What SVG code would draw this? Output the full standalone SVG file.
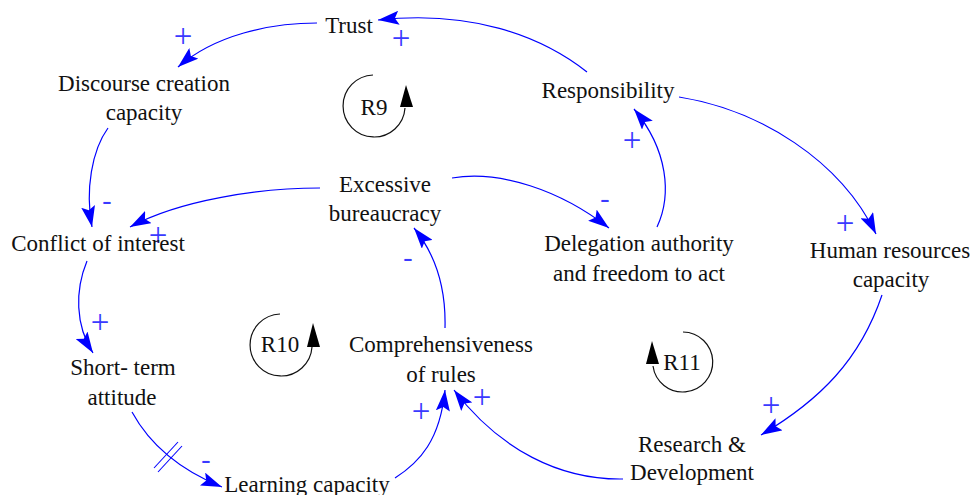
<svg xmlns="http://www.w3.org/2000/svg" width="973" height="495" viewBox="0 0 973 495" font-family="Liberation Serif, Tinos, Times New Roman, DejaVu Serif, Noto Serif, serif">
  <style>
    .lbl { font-size: 23px; fill: #111; text-anchor: middle; }
    .pol { font-size: 28px; fill: #3a3aff; text-anchor: middle; }
    .plus { font-size: 33px; fill: #3a3aff; text-anchor: middle; }
    .link { fill: none; stroke: #0000ff; stroke-width: 1.2; marker-end: url(#arrow); }
    .loop { fill: none; stroke: #111; stroke-width: 1.2; }
    .loophead { fill: #000; }
    .delay { stroke: #0000ff; stroke-width: 1.1; }
  </style>
  <defs>
    <marker id="arrow" markerUnits="userSpaceOnUse" markerWidth="21" markerHeight="14" refX="21" refY="7" orient="auto">
      <path d="M0,0 L21,7 L0,14 L4,7 Z" fill="#0000ff"/>
    </marker>
  </defs>

  <!-- causal links -->
  <g id="connectors">
    <path class="link" d="M587,72 C540,35 470,10 378,20"/>
    <path class="link" d="M317,23 C270,23 215,35 178,67"/>
    <path class="link" d="M108,128 C92,150 85,190 92,227"/>
    <path class="link" d="M320,188 C260,188 180,200 130,227"/>
    <path class="link" d="M452,178 C500,170 560,190 609,228"/>
    <path class="link" d="M657,227 C672,195 668,150 634,109"/>
    <path class="link" d="M679,97 C760,110 840,160 876,234"/>
    <path class="link" d="M87,261 C75,290 75,325 93,353"/>
    <path class="link" d="M132,412 C150,445 180,470 222,487"/>
    <line class="delay" x1="154" y1="468" x2="178" y2="442"/>
    <line class="delay" x1="158" y1="472" x2="182" y2="446"/>
    <path class="link" d="M395,478 C420,462 440,440 445,390"/>
    <path class="link" d="M445,328 C446,290 436,255 414,228"/>
    <path class="link" d="M882,295 C860,360 820,400 761,435"/>
    <path class="link" d="M623,479 C560,480 500,450 454,390"/>

    <!-- link polarities -->
    <text class="plus" x="183" y="47">+</text>
    <text class="plus" x="401" y="49">+</text>
    <text class="pol" x="107" y="209">-</text>
    <text class="plus" x="158" y="246">+</text>
    <text class="pol" x="605" y="207">-</text>
    <text class="plus" x="632" y="151">+</text>
    <text class="plus" x="845" y="234">+</text>
    <text class="plus" x="100" y="333">+</text>
    <text class="pol" x="206" y="468">-</text>
    <text class="pol" x="408" y="266">-</text>
    <text class="plus" x="421" y="422">+</text>
    <text class="plus" x="482" y="408">+</text>
    <text class="plus" x="771" y="416">+</text>
  </g>

  <!-- variables -->
  <g id="trust"><text class="lbl" x="349" y="33">Trust</text></g>
  <g id="discourse-creation-capacity">
    <text class="lbl" x="144" y="91">Discourse creation</text>
    <text class="lbl" x="144" y="120">capacity</text>
  </g>
  <g id="responsibility"><text class="lbl" x="608" y="98">Responsibility</text></g>
  <g id="excessive-bureaucracy">
    <text class="lbl" x="385" y="192">Excessive</text>
    <text class="lbl" x="385" y="221">bureaucracy</text>
  </g>
  <g id="conflict-of-interest"><text class="lbl" x="98" y="251">Conflict of interest</text></g>
  <g id="delegation-authority">
    <text class="lbl" x="639" y="251">Delegation authority</text>
    <text class="lbl" x="639" y="281">and freedom to act</text>
  </g>
  <g id="human-resources-capacity">
    <text class="lbl" x="890" y="258">Human resources</text>
    <text class="lbl" x="891" y="287">capacity</text>
  </g>
  <g id="short-term-attitude">
    <text class="lbl" x="123" y="375">Short- term</text>
    <text class="lbl" x="122" y="405">attitude</text>
  </g>
  <g id="comprehensiveness-of-rules">
    <text class="lbl" x="441" y="352">Comprehensiveness</text>
    <text class="lbl" x="441" y="382">of rules</text>
  </g>
  <g id="learning-capacity"><text class="lbl" x="307" y="492">Learning capacity</text></g>
  <g id="research-development">
    <text class="lbl" x="692" y="452">Research &amp;</text>
    <text class="lbl" x="692" y="480">Development</text>
  </g>

  <!-- loop markers -->
  <g id="loop-r9">
    <path class="loop" d="M373,75 A31,31 0 1 0 405,108"/>
    <path class="loophead" d="M406,85 L413,107 L400,107 Z"/>
    <text class="lbl" x="374" y="115">R9</text>
  </g>
  <g id="loop-r10">
    <path class="loop" d="M280,314 A31,31 0 1 0 312,347"/>
    <path class="loophead" d="M313,323 L320,347 L307,347 Z"/>
    <text class="lbl" x="280" y="352">R10</text>
  </g>
  <g id="loop-r11">
    <path class="loop" d="M683,332 A30,30 0 1 1 653,366"/>
    <path class="loophead" d="M652,341 L659,364 L646,364 Z"/>
    <text class="lbl" x="682" y="370">R11</text>
  </g>
</svg>
